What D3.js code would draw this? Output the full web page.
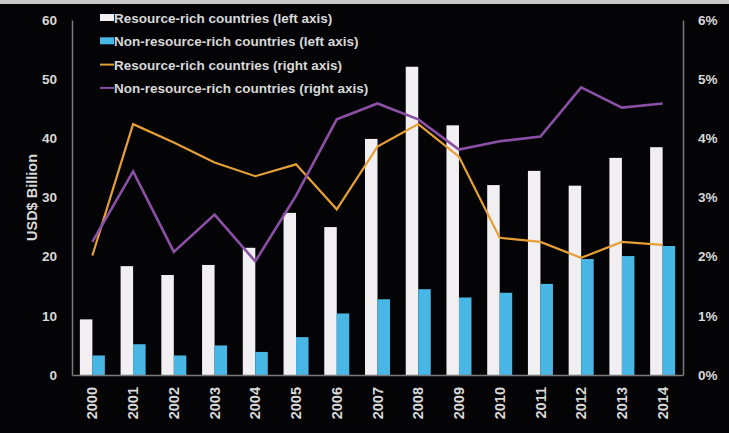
<!DOCTYPE html>
<html><head><meta charset="utf-8">
<script src="https://cdn.jsdelivr.net/npm/d3@7"></script>
<style>
html,body{margin:0;padding:0;background:#040407;}
svg{display:block;}
text{font-family:"Liberation Sans Narrow","Arial Narrow","Liberation Sans",Arial,sans-serif;font-weight:bold;}
</style></head>
<body>
<script>
const years = ["2000","2001","2002","2003","2004","2005","2006","2007","2008","2009","2010","2011","2012","2013","2014"];
const resourceRichBn = [9.4,18.4,16.9,18.6,21.5,27.4,25.0,39.9,52.1,42.2,32.1,34.5,32.0,36.7,38.5];
const nonResourceRichBn = [3.3,5.2,3.3,5.0,3.9,6.4,10.4,12.8,14.5,13.1,13.9,15.4,19.6,20.1,21.8];
const resourceRichPct = [2.02,4.24,3.93,3.59,3.36,3.56,2.80,3.86,4.24,3.69,2.32,2.25,1.98,2.25,2.20];
const nonResourceRichPct = [2.25,3.44,2.08,2.71,1.92,3.03,4.32,4.59,4.32,3.81,3.95,4.03,4.86,4.52,4.59];
const leftTicks = [0,10,20,30,40,50,60];
const rightTicks = [0,1,2,3,4,5,6];
const legendLabels = ["Resource-rich countries (left axis)","Non-resource-rich countries (left axis)","Resource-rich countries (right axis)","Non-resource-rich countries (right axis)"];

const W = 729, H = 433;
const colors = {white:"#f1eff1", blue:"#49b7e6", orange:"#e59f35", purple:"#8b4fa6", text:"#d8d8d8", axis:"#7a7a7a"};
const m = {left:72, right:46, top:20, bottom:58};

const svg = d3.select("body").append("svg").attr("width",W).attr("height",H);
svg.append("rect").attr("width",W).attr("height",H).attr("fill","#040407");
svg.append("rect").attr("x",0).attr("y",0).attr("width",W).attr("height",4).attr("fill","#c9c9c9");

const x = d3.scaleBand().domain(years).range([m.left, W-m.right]).paddingInner(0).paddingOuter(0);
const yL = d3.scaleLinear().domain([0,60]).range([H-m.bottom, m.top]);
const yR = d3.scaleLinear().domain([0,6]).range([H-m.bottom, m.top]);

const bw = 12.5;
const g = svg.append("g");
g.selectAll("rect.w").data(years).enter().append("rect")
  .attr("x",d=>x(d)+x.bandwidth()/2-bw).attr("width",bw)
  .attr("y",(d,i)=>yL(resourceRichBn[i])).attr("height",(d,i)=>yL(0)-yL(resourceRichBn[i]))
  .attr("fill",colors.white);
g.selectAll("rect.b").data(years).enter().append("rect")
  .attr("x",d=>x(d)+x.bandwidth()/2).attr("width",bw)
  .attr("y",(d,i)=>yL(nonResourceRichBn[i])).attr("height",(d,i)=>yL(0)-yL(nonResourceRichBn[i]))
  .attr("fill",colors.blue);

const line = arr => d3.line().x((d,i)=>x(years[i])+x.bandwidth()/2).y(d=>yR(d))(arr);
svg.append("path").attr("d",line(resourceRichPct)).attr("fill","none").attr("stroke",colors.orange).attr("stroke-width",2.2);
svg.append("path").attr("d",line(nonResourceRichPct)).attr("fill","none").attr("stroke",colors.purple).attr("stroke-width",2.6);

// axes
const axL = svg.append("g").attr("transform",`translate(${m.left},0)`).call(d3.axisLeft(yL).tickValues(leftTicks).tickSize(0).tickPadding(15));
const axR = svg.append("g").attr("transform",`translate(${W-m.right},0)`).call(d3.axisRight(yR).tickValues(rightTicks).tickFormat(d=>d+"%").tickSize(0).tickPadding(15));
const axB = svg.append("g").attr("transform",`translate(0,${H-m.bottom})`).call(d3.axisBottom(x).tickSize(0).tickPadding(6));
[axL,axR,axB].forEach(a=>{
  a.select(".domain").attr("stroke",colors.axis).attr("stroke-width",1.5);
  a.selectAll("text").attr("fill",colors.text).attr("font-size",13.5);
});
axB.selectAll("text").attr("transform","rotate(-90)").attr("text-anchor","end").attr("x",-12).attr("y",0).attr("dy","0.35em").attr("font-size",14.5);

svg.append("text").attr("transform",`translate(37,${(m.top+H-m.bottom)/2}) rotate(-90)`)
  .attr("text-anchor","middle").attr("fill",colors.text).attr("font-size",14.5).text("USD$ Billion");

// legend
const lg = svg.append("g").attr("transform","translate(100,18)");
const rowH = 23.3;
legendLabels.forEach((lab,i)=>{
  const r = lg.append("g").attr("transform",`translate(0,${i*rowH})`);
  if(i<2){
    r.append("rect").attr("x",0).attr("y",-4).attr("width",14).attr("height",7).attr("fill",i==0?colors.white:colors.blue);
  } else {
    r.append("line").attr("x1",0).attr("x2",14).attr("y1",0).attr("y2",0).attr("stroke",i==2?colors.orange:colors.purple).attr("stroke-width",2);
  }
  r.append("text").attr("x",14).attr("y",5).attr("fill",colors.text).attr("font-size",13.5).text(lab);
});
</script>
</body></html>
